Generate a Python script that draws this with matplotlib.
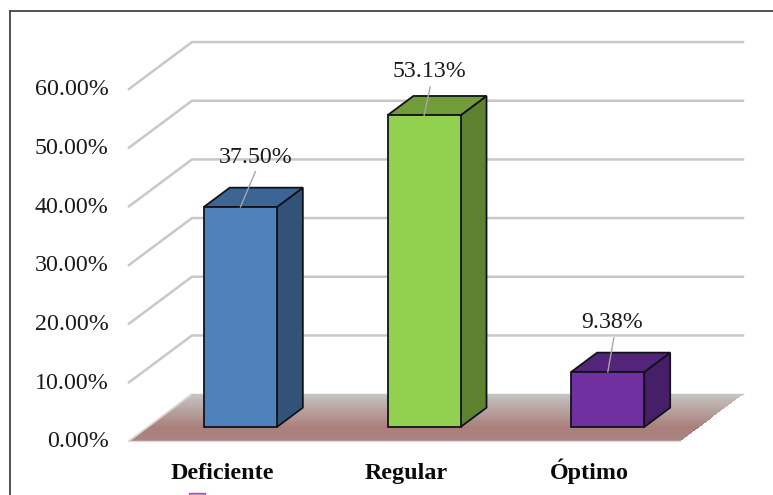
import matplotlib
matplotlib.use("Agg")
import matplotlib.pyplot as plt
import numpy as np
from matplotlib.colors import LinearSegmentedColormap
from matplotlib.lines import Line2D
from matplotlib.patches import Polygon, Rectangle
from matplotlib.transforms import ScaledTranslation

categories = ["Deficiente", "Regular", "Óptimo"]
values = [37.50, 53.13, 9.38]
value_labels = ["37.50%", "53.13%", "9.38%"]
y_ticks = [0, 10, 20, 30, 40, 50, 60]
y_tick_labels = ["0.00%", "10.00%", "20.00%", "30.00%", "40.00%", "50.00%", "60.00%"]

front_colors = ["#4f81bd", "#92d050", "#7030a0"]
top_colors = ["#3c6494", "#729c3c", "#54247a"]
side_colors = ["#325278", "#5f8230", "#471f68"]

W, H = 773, 495
plt.rcParams["font.family"] = ["Liberation Serif", "DejaVu Serif"]

fig = plt.figure(figsize=(W / 100, H / 100), dpi=100, facecolor="white")
ax = fig.add_axes([129 / W, (H - 441) / H, 551 / W, 352 / H])
ax.set_xlim(-0.5, 2.5)
ax.set_ylim(0, 60)
for spine in ax.spines.values():
    spine.set_visible(False)
ax.patch.set_visible(False)

# Oblique projection: full depth of the chart box, in data units
DX = 63 / (551 / 3)
DY = 8.0
BAR_W = 0.398
BAR_SHIFT = 0.004
BAR_NEAR, BAR_FAR = 0.30, 0.71


def project(x, y, depth):
    return x + DX * depth, y + DY * depth


# Floor with its vertical shading, built as a sheared mesh
x0, x1 = -0.5, 2.5
depths = np.linspace(0, 1, 65)
mesh_x = np.array([[project(x0, 0, d)[0], project(x1, 0, d)[0]] for d in depths])
mesh_y = np.array([[project(x0, 0, d)[1], project(x1, 0, d)[1]] for d in depths])
shade = np.linspace(1, 0, 64).reshape(-1, 1)
floor_cmap = LinearSegmentedColormap.from_list(
    "floor", [(0, "#c6c3c2"), (0.72, "#a97f7a"), (1, "#ab8480")])
ax.pcolormesh(mesh_x, mesh_y, shade, cmap=floor_cmap, shading="flat",
              clip_on=False, zorder=1, linewidth=0, antialiased=False)
ax.set_xlim(-0.5, 2.5)
ax.set_ylim(0, 60)

# Gridlines running along the side wall and the back wall
grid_color = "#c8c8c8"
for t in y_ticks:
    px, py = zip(project(x0, t, 0), project(x0, t, 1), project(x1, t, 1))
    if t == 0:
        ax.plot(px[:2], py[:2], color="#d6d6d6", lw=1.3, clip_on=False, zorder=1.5)
        ax.plot([x0, x1], [t, t], color="#dddddd", lw=1.0, clip_on=False, zorder=1.5)
        ax.plot(px[1:], py[1:], color="#c4c4c4", lw=1.0, clip_on=False, zorder=1.5)
    else:
        ax.plot(px, py, color=grid_color, lw=1.8, clip_on=False, zorder=1.5,
                solid_joinstyle="miter")

# Bars as three visible faces
edge = dict(edgecolor="#10141a", linewidth=1.3, joinstyle="miter", clip_on=False, zorder=3)
for i, v in enumerate(values):
    l, r = i + BAR_SHIFT - BAR_W / 2, i + BAR_SHIFT + BAR_W / 2
    front = [project(l, 0, BAR_NEAR), project(r, 0, BAR_NEAR),
             project(r, v, BAR_NEAR), project(l, v, BAR_NEAR)]
    top = [project(l, v, BAR_NEAR), project(r, v, BAR_NEAR),
           project(r, v, BAR_FAR), project(l, v, BAR_FAR)]
    side = [project(r, 0, BAR_NEAR), project(r, 0, BAR_FAR),
            project(r, v, BAR_FAR), project(r, v, BAR_NEAR)]
    ax.add_patch(Polygon(side, closed=True, facecolor=side_colors[i], **edge))
    ax.add_patch(Polygon(top, closed=True, facecolor=top_colors[i], **edge))
    ax.add_patch(Polygon(front, closed=True, facecolor=front_colors[i], **edge))

# Value labels with leader lines up from the top edge of each bar
label_offsets = [(0.081, 8.5), (0.027, 7.5), (0.025, 8.5)]
leader_offsets = [(0.081, 6.0), (0.033, 4.8), (0.033, 5.8)]
for i, (v, txt) in enumerate(zip(values, value_labels)):
    bx, by = project(i + BAR_SHIFT, v, BAR_NEAR)
    lx, ly = label_offsets[i]
    sx, sy = leader_offsets[i]
    ax.plot([bx, bx + sx], [by, by + sy], color="#a6a6a6", lw=1.0, clip_on=False, zorder=4)
    ax.text(bx + lx, by + ly, txt, ha="center", va="center", fontsize=17.2,
            color="#1a1a1a", zorder=5, clip_on=False)

# Axis labels, nudged by a pixel or so from their default anchor
ax.set_yticks(y_ticks)
ax.set_yticklabels(y_tick_labels, fontsize=17.3, color="#1a1a1a")
ax.set_xticks(range(len(categories)))
ax.set_xticklabels(categories, fontsize=17.4, fontweight="bold", color="#0a0a0a",
                   va="baseline")
ax.tick_params(axis="y", length=0, pad=14.5)
ax.tick_params(axis="x", length=0, pad=27.4)
ax.grid(False)
for lbl in ax.get_yticklabels():
    lbl.set_transform(lbl.get_transform() + ScaledTranslation(0, 1.2 / 72, fig.dpi_scale_trans))
for lbl in ax.get_xticklabels():
    lbl.set_transform(lbl.get_transform() + ScaledTranslation(1.0 / 72, 0, fig.dpi_scale_trans))

# Outer border, left and top
border = dict(color="#444444", lw=1.3, transform=fig.transFigure)
fig.add_artist(Line2D([10 / W, 10 / W], [0, (H - 11) / H], **border))
fig.add_artist(Line2D([10 / W, 1], [(H - 11) / H, (H - 11) / H], **border))

# Legend swatch at the lower border
fig.add_artist(Rectangle((189 / W, -6 / H), 16 / W, 8 / H, transform=fig.transFigure,
                         facecolor="#b9a0d0", edgecolor="#c040c0", linewidth=1.0))

fig.savefig("out.png", dpi=100, facecolor="white")
